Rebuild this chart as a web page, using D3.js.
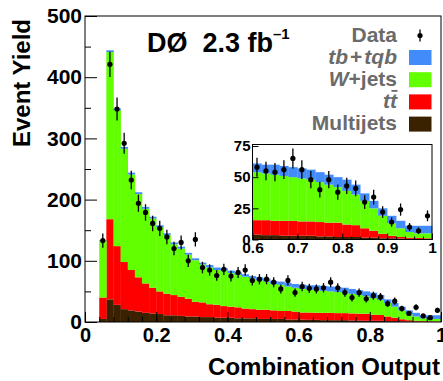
<!DOCTYPE html>
<html>
<head>
<meta charset="utf-8">
<script src="https://cdn.jsdelivr.net/npm/d3@7"></script>
<style>
  body { margin: 0; background: #fff; }
  svg { display: block; font-family: "Liberation Sans", Arial, sans-serif; font-weight: bold; }
</style>
</head>
<body>
<svg id="chart" width="443" height="381"></svg>
<script>
// lower edges of the 0.02 wide bins (first two bins are empty)
const binLo = [0.04,0.06,0.08,0.10,0.12,0.14,0.16,0.18,0.20,0.22,0.24,0.26,0.28,0.30,0.32,0.34,
  0.36,0.38,0.40,0.42,0.44,0.46,0.48,0.50,0.52,0.54,0.56,0.58,0.60,0.62,0.64,0.66,0.68,0.70,
  0.72,0.74,0.76,0.78,0.80,0.82,0.84,0.86,0.88,0.90,0.92,0.94,0.96,0.98];
const binW = 0.02;

const multijets = [5,37,28,21,19,17,15,14,13,11,11,10,9,9,8,8,7,7,7,6,6,6,5,5,5,5,4,4,
  4,3.5,3.5,3,3,3,3,2.5,2.5,2,2,2,1.5,1.5,1,1,0.8,0.5,0.5,0.5];
const ttbar = [35,131,96,77,66,56,48,42,37,35,33,31,29,24,24,21,21,19,18,18,16,15,15,15,14,13,14,13,
  11.5,12,11.5,12,12,11.5,11.5,11.5,11,11.5,10,9.5,7.5,5.5,3.5,2,1.2,1,0.7,0.5];
const wjets = [93,273,222,185,156,136,122,113,105,96,83,79,72,68,62,60,57,58,55,53,52,50,48,46,43,43,40,39,
  38.5,37.5,37,36,35,34.5,33.5,32,30.5,28.5,27,24.5,22,18,14.5,10,7,4.5,3.8,4];
const signal = [1,3,3,3,3,3,3,3,3,3,3,3,3,3,3,4,4,4,4,4,4,4,5,5,5,5,6,6,
  7,7,8,8,8,8,8,8,8,8,9,8,6,6,6,6,6,5,6,6];
const data = [133,421,348,292,232,194,179,161,153,139,120,130,100,135,89,85,76,86,75,81,85,68,70,70,65,54,68,48,
  58,55,54,56,65,56,48,40,48,38,43,41,30,34,22,14,24,10,7,19];

const keys = ["multijets", "ttbar", "wjets", "signal"];
const colors = { signal: "#428bfb", wjets: "#62ff00", ttbar: "#ff0000", multijets: "#3a2100" };
const legendItems = [
  { key: "signal", parts: [["tb", true, 0], ["+", false, 2], ["tqb", true, 2]] },
  { key: "wjets", parts: [["W", true, 0], ["+jets", false, 0]] },
  { key: "ttbar", parts: [["tt", true, 0]] },
  { key: "multijets", parts: [["Multijets", false, 0]] }
];

const rows = binLo.map((lo, i) => ({
  lo: lo, multijets: multijets[i], ttbar: ttbar[i], wjets: wjets[i], signal: signal[i], data: data[i]
}));
const stacked = d3.stack().keys(keys)(rows);

const svg = d3.select("#chart");

// main frame
const x = d3.scaleLinear().domain([0, 1]).range([85, 441]);
const y = d3.scaleLinear().domain([0, 500]).range([322, 16]);

function drawHist(g, xs, ys, filter) {
  g.selectAll("g.layer")
    .data(stacked)
    .enter().append("g")
    .attr("fill", d => colors[d.key])
    .selectAll("rect")
    .data(d => d.filter(p => filter(p.data.lo)))
    .enter().append("rect")
    .attr("x", d => xs(d.data.lo))
    .attr("width", d => xs(d.data.lo + binW) - xs(d.data.lo) + 0.3)
    .attr("y", d => ys(d[1]))
    .attr("height", d => Math.max(0, ys(d[0]) - ys(d[1])));

  const pts = g.append("g").selectAll("g")
    .data(rows.filter(r => filter(r.lo)))
    .enter().append("g");
  pts.append("line")
    .attr("x1", d => xs(d.lo + binW / 2)).attr("x2", d => xs(d.lo + binW / 2))
    .attr("y1", d => ys(d.data + Math.sqrt(d.data)))
    .attr("y2", d => ys(Math.max(0, d.data - Math.sqrt(d.data))))
    .attr("stroke", "#000").attr("stroke-width", 1.3);
  pts.append("circle")
    .attr("cx", d => xs(d.lo + binW / 2))
    .attr("cy", d => ys(d.data))
    .attr("r", 2.6)
    .attr("fill", "#000");
}

drawHist(svg.append("g"), x, y, () => true);

// y axis with ticks inside the frame
svg.append("g")
  .attr("transform", "translate(85,0)")
  .call(d3.axisLeft(y).tickValues(d3.range(50, 500, 100)).tickSizeInner(-6).tickSizeOuter(0).tickFormat(""))
  .call(g => g.select(".domain").remove());
svg.append("g")
  .attr("transform", "translate(85,0)")
  .call(d3.axisLeft(y).ticks(5).tickSizeInner(-12).tickSizeOuter(0).tickPadding(3))
  .call(g => g.select(".domain").remove())
  .call(g => g.selectAll("text").attr("font-size", 21).attr("font-family", null).attr("font-weight", "bold"));

// x axis
svg.append("g")
  .attr("transform", "translate(0,322)")
  .call(d3.axisBottom(x).tickValues(d3.range(0, 1.001, 0.04)).tickSizeInner(-5).tickSizeOuter(0).tickFormat(""))
  .call(g => g.select(".domain").remove());
svg.append("g")
  .attr("transform", "translate(0,322)")
  .call(d3.axisBottom(x).ticks(5).tickSizeInner(-10).tickSizeOuter(0).tickPadding(6)
    .tickFormat(d => String(+d.toFixed(1))))
  .call(g => g.select(".domain").remove())
  .call(g => g.selectAll("text").attr("font-size", 20).attr("font-family", null).attr("font-weight", "bold"));

svg.append("rect")
  .attr("x", 85).attr("y", 16).attr("width", 356).attr("height", 306)
  .attr("fill", "none").attr("stroke", "#000").attr("stroke-width", 1);

// axis titles
svg.append("text")
  .attr("transform", "translate(30,83) rotate(-90)")
  .attr("text-anchor", "middle")
  .attr("font-size", 24)
  .text("Event Yield");
svg.append("text")
  .attr("x", 440).attr("y", 375)
  .attr("text-anchor", "end")
  .attr("font-size", 24)
  .text("Combination Output");

// experiment label
const lab = svg.append("text").attr("x", 147).attr("y", 52).attr("font-size", 27);
lab.append("tspan").text("DØ");
lab.append("tspan").attr("dx", 15).text("2.3 fb");
lab.append("tspan").attr("font-size", 15).attr("dy", -13).text("–1");

// legend
const legX = 397;
const leg = svg.append("g").attr("fill", "#6b6b6b").attr("font-size", 21);
leg.append("text").attr("x", legX).attr("y", 42).attr("text-anchor", "end").text("Data");
leg.append("line").attr("x1", 420).attr("x2", 420).attr("y1", 29.5).attr("y2", 41.5)
  .attr("stroke", "#000").attr("stroke-width", 1.3);
leg.append("circle").attr("cx", 420).attr("cy", 35.5).attr("r", 2.6).attr("fill", "#000");

legendItems.forEach((item, i) => {
  const base = 63.5 + i * 22.2;
  const t = leg.append("text").attr("x", legX).attr("y", base).attr("text-anchor", "end");
  item.parts.forEach(p => {
    t.append("tspan").attr("font-style", p[1] ? "italic" : "normal").attr("dx", p[2]).text(p[0]);
  });
  if (item.key === "ttbar") {
    const box = t.node().getExtentOfChar(1);
    leg.append("line")
      .attr("x1", box.x + 1.5).attr("x2", box.x + box.width + 0.5)
      .attr("y1", base - 17).attr("y2", base - 17)
      .attr("stroke", "#6b6b6b").attr("stroke-width", 1.8);
  }
  leg.append("rect")
    .attr("x", 409).attr("y", base - 13.5).attr("width", 22.5).attr("height", 15)
    .attr("fill", colors[item.key]);
});

// inset: zoom into 0.6 - 1.0
const xi = d3.scaleLinear().domain([0.6, 1]).range([252.5, 432]);
const yi = d3.scaleLinear().domain([0, 75]).range([239.5, 146]);
const inset = svg.append("g");
inset.append("rect")
  .attr("x", 252.5).attr("y", 144.5).attr("width", 179.5).attr("height", 95)
  .attr("fill", "#fff");
drawHist(inset.append("g"), xi, yi, lo => lo >= 0.599);

inset.append("g")
  .attr("transform", "translate(252.5,0)")
  .call(d3.axisLeft(yi).tickValues([0, 25, 50, 75]).tickSizeInner(-6).tickSizeOuter(0).tickPadding(2))
  .call(g => g.select(".domain").remove())
  .call(g => g.selectAll("text").attr("font-size", 15).attr("font-family", null).attr("font-weight", "bold"));
inset.append("g")
  .attr("transform", "translate(0,239.5)")
  .call(d3.axisBottom(xi).tickValues(d3.range(0.6, 1.001, 0.02)).tickSizeInner(-3).tickSizeOuter(0).tickFormat(""))
  .call(g => g.select(".domain").remove());
inset.append("g")
  .attr("transform", "translate(0,239.5)")
  .call(d3.axisBottom(xi).tickValues([0.6, 0.7, 0.8, 0.9, 1]).tickSizeInner(-6).tickSizeOuter(0).tickPadding(2)
    .tickFormat(d => String(+d.toFixed(1))))
  .call(g => g.select(".domain").remove())
  .call(g => g.selectAll("text").attr("font-size", 15.5).attr("font-family", null).attr("font-weight", "bold"));
inset.append("rect")
  .attr("x", 252.5).attr("y", 144.5).attr("width", 179.5).attr("height", 95)
  .attr("fill", "none").attr("stroke", "#000").attr("stroke-width", 1);
</script>
</body>
</html>
